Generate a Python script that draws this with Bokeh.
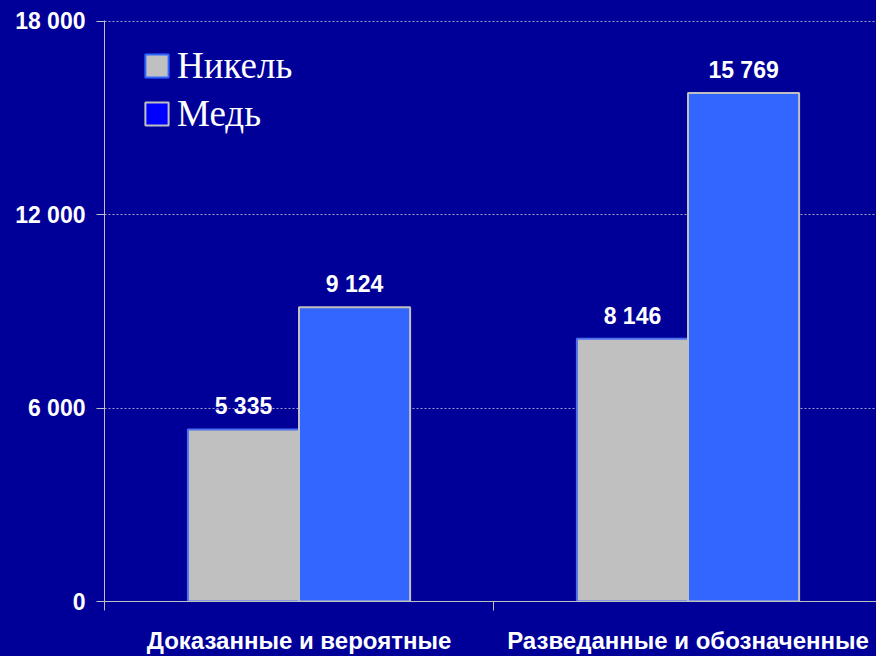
from bokeh.plotting import figure
from bokeh.models import (Range1d, FixedTicker, Legend, LegendItem, ColumnDataSource,
                          GlobalInlineStyleSheet, Label)
from bokeh.embed import file_html
from bokeh.resources import INLINE
from bokeh.core.properties import value

# ---- data ----
title_text = "(в тысячах тонн)"
categories = ["Доказанные и вероятные", "Разведанные и обозначенные"]
series_names = ["Никель", "Медь"]
nickel = [5335, 8146]
copper = [9124, 15769]
y_ticks = [0, 6000, 12000, 18000]
y_tick_labels = ["0", "6 000", "12 000", "18 000"]

# ---- styles ----
BG = "#000099"
NICKEL = "#C0C0C0"
COPPER = "#3366FF"
COPPER_LEGEND = "#0000FF"
AXIS = "#C0C0C0"
SANS = "Liberation Sans"
SERIF = "Liberation Serif"

W, H = 876, 656
LEFT, TOP, BOTTOM = 104, 20, 55
CAT_PX = 389.0
BW = 0.2856

cat_x = [i + 0.5 for i in range(len(categories))]
bounds = [float(i) for i in range(len(categories) + 1)]


def fmt(v):
    return f"{v:,}".replace(",", " ")


p = figure(width=W, height=H, output_backend="svg", toolbar_location=None,
           x_range=Range1d(0, (W - LEFT) / CAT_PX), y_range=Range1d(0, 18020),
           min_border_left=LEFT, min_border_right=0, min_border_top=TOP,
           min_border_bottom=BOTTOM,
           background_fill_color=BG, border_fill_color=BG, outline_line_color=None)
p.stylesheets = [GlobalInlineStyleSheet(css="body{background-color:#000099;}")]

src_n = ColumnDataSource(dict(x=[c - BW / 2 for c in cat_x], top=nickel,
                              lab=[fmt(v) for v in nickel]))
src_c = ColumnDataSource(dict(x=[c + BW / 2 for c in cat_x], top=copper,
                              lab=[fmt(v) for v in copper]))

p.vbar(x="x", top="top", width=BW, source=src_n, fill_color=NICKEL,
       line_color="#4D6FF0", line_width=2)
p.vbar(x="x", top="top", width=BW, source=src_c, fill_color=COPPER,
       line_color=AXIS, line_width=2)

for src in (src_n, src_c):
    p.text(x="x", y="top", text="lab", source=src, text_align="center",
           text_baseline="alphabetic", y_offset=-23, text_color="white",
           text_font=value(SANS), text_font_style="bold", text_font_size="23px")

# legend (swatches as drawn in the original)
nan = float("nan")
r_n = p.vbar(x=[nan], top=[nan], width=0.1, fill_color=NICKEL, line_color="#3366FF", line_width=2)
r_c = p.vbar(x=[nan], top=[nan], width=0.1, fill_color=COPPER_LEGEND, line_color=AXIS, line_width=2)
legend = Legend(items=[LegendItem(label=series_names[0], renderers=[r_n]),
                       LegendItem(label=series_names[1], renderers=[r_c])],
                location=(38, 466), padding=0, margin=0, spacing=5,
                glyph_width=29, glyph_height=29, label_standoff=6,
                label_text_font=SERIF, label_text_font_size="37px",
                label_text_color="white", background_fill_alpha=0,
                border_line_alpha=0)
p.add_layout(legend)

# title (cut off at the top edge, as in the original)
p.add_layout(Label(x=353, y=607, x_units="screen", y_units="screen", text=title_text,
                   text_align="center", text_baseline="alphabetic", text_color="white",
                   text_font=SERIF, text_font_style="italic", text_font_size="42px"))

# y axis
yax = p.yaxis[0]
yax.ticker = FixedTicker(ticks=y_ticks)
yax.major_label_overrides = dict(zip(y_ticks, y_tick_labels))
yax.axis_line_color = AXIS
yax.major_tick_line_color = AXIS
yax.major_tick_out = 8
yax.major_tick_in = 0
yax.minor_tick_line_color = None
yax.major_label_standoff = 11
yax.major_label_text_color = "white"
yax.major_label_text_font = SANS
yax.major_label_text_font_style = "bold"
yax.major_label_text_font_size = "23px"

# x axis
xax = p.xaxis[0]
xax.ticker = FixedTicker(ticks=cat_x, minor_ticks=bounds)
xax.major_label_overrides = dict(zip(cat_x, categories))
xax.axis_line_color = AXIS
xax.major_tick_line_color = None
xax.major_tick_out = 0
xax.major_tick_in = 0
xax.minor_tick_line_color = AXIS
xax.minor_tick_out = 9
xax.minor_tick_in = 0
xax.major_label_standoff = 16
xax.major_label_text_color = "white"
xax.major_label_text_font = SANS
xax.major_label_text_font_style = "bold"
xax.major_label_text_font_size = "24px"

p.xgrid.visible = False
p.ygrid.ticker = FixedTicker(ticks=y_ticks)
p.ygrid.grid_line_color = "#A0A0C8"
p.ygrid.grid_line_dash = "2 2"
p.ygrid.grid_line_width = 1

open("out.html", "w").write(file_html(p, INLINE))
